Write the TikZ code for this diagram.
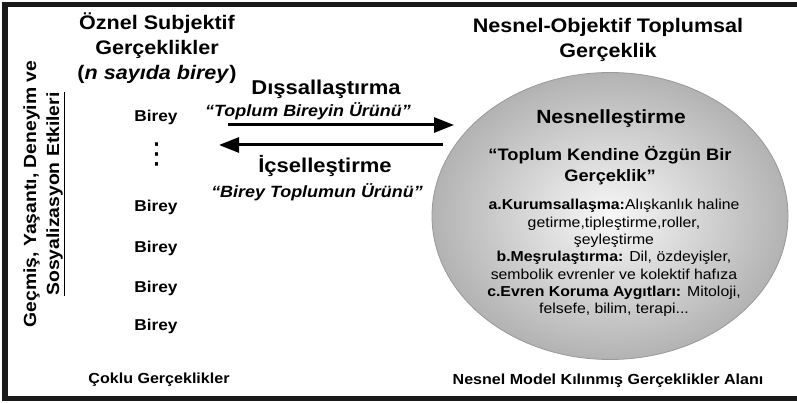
\documentclass[tikz,border=0pt]{standalone}
\usepackage{fontspec}
\setmainfont[FakeStretch=1.1]{Liberation Sans}
\newfontfamily\dvfont{DejaVu Sans}
\usetikzlibrary{arrows.meta,shapes.geometric}
\begin{document}
\begin{tikzpicture}[x=1pt,y=-1pt,
  every node/.style={inner sep=0pt, align=center, text=black},
  ttl/.style={font=\bfseries\fontsize{19.6}{25}\selectfont},
  proc/.style={font=\bfseries\fontsize{20}{22}\selectfont},
  quote/.style={font=\bfseries\itshape\fontsize{16.3}{17}\selectfont},
  birey/.style={font=\bfseries\fontsize{15.7}{17}\selectfont},
  small/.style={font=\fontsize{14.4}{17.3}\selectfont},
  foot/.style={font=\bfseries\fontsize{14.6}{16}\selectfont},
  flow/.style={line width=3pt, -{Triangle[length=20pt,width=15pt]}},
  frame/.style={line width=5.5pt, draw=black!90}
]
\useasboundingbox (0,0) rectangle (797,403);
% frame (right side lies outside the picture)
\draw[frame] (810,4.5) -- (5,4.5) -- (5,398.5) -- (810,398.5);

% ellipse
\node[ellipse, minimum width=356pt, minimum height=287pt, draw=black!40, line width=0.8pt,
      inner color=black!3, outer color=black!30] (ell) at (610,216) {};

% titles
\node[ttl] (lt) at (157,48) {Öznel Subjektif\\Gerçeklikler\\(\textit{n sayıda birey})};
\node[ttl] (rt) at (608,40) {Nesnel-Objektif Toplumsal\\Gerçeklik};

% side text
\node[rotate=90, font=\bfseries\fontsize{17.6}{23}\selectfont] (side) at (44,194)
  {Geçmiş, Yaşantı, Deneyim ve\\\underline{Sosyalizasyon Etkileri}};

% processes
\node[proc] (dis) at (326,89) {Dışsallaştırma};
\node[quote] (disq) at (308,111) {“Toplum Bireyin Ürünü”};
\node[proc] (ic) at (325,166) {İçselleştirme};
\node[quote] (icq) at (317,192) {“Birey Toplumun Ürünü”};

\coordinate (a1s) at (228,125);
\coordinate (a1e) at (454,125);
\coordinate (a2s) at (443,145);
\coordinate (a2e) at (219,145);
\draw[flow] (a1s) -- (a1e);
\draw[flow] (a2s) -- (a2e);

% individuals
\node[birey] (b1) at (156,117) {Birey};
\node[font=\dvfont\fontsize{29}{29}\selectfont] (dots) at (157,154) {⋮};
\node[birey] (b2) at (156,207) {Birey};
\node[birey] (b3) at (156,248) {Birey};
\node[birey] (b4) at (156,288) {Birey};
\node[birey] (b5) at (156,326) {Birey};

% inside ellipse
\node[font=\bfseries\fontsize{19.1}{24}\selectfont] (nes) at (611,119) {Nesnelleştirme};
\node[font=\bfseries\fontsize{16.6}{21}\selectfont] (nesq) at (610,166)
  {“Toplum Kendine Özgün Bir\\Gerçeklik”};
\node[small] (list) at (614,258)
  {\textbf{a.Kurumsallaşma:}Alışkanlık haline\\
   getirme,tipleştirme,roller,\\
   şeyleştirme\\
   \textbf{b.Meşrulaştırma:} Dil, özdeyişler,\\
   sembolik evrenler ve kolektif hafıza\\
   \textbf{c.Evren Koruma Aygıtları:} Mitoloji,\\
   felsefe, bilim, terapi...};

% footers
\node[foot] (fl) at (159,380) {Çoklu Gerçeklikler};
\node[foot] (fr) at (608,381) {Nesnel Model Kılınmış Gerçeklikler Alanı};
\end{tikzpicture}
\end{document}
